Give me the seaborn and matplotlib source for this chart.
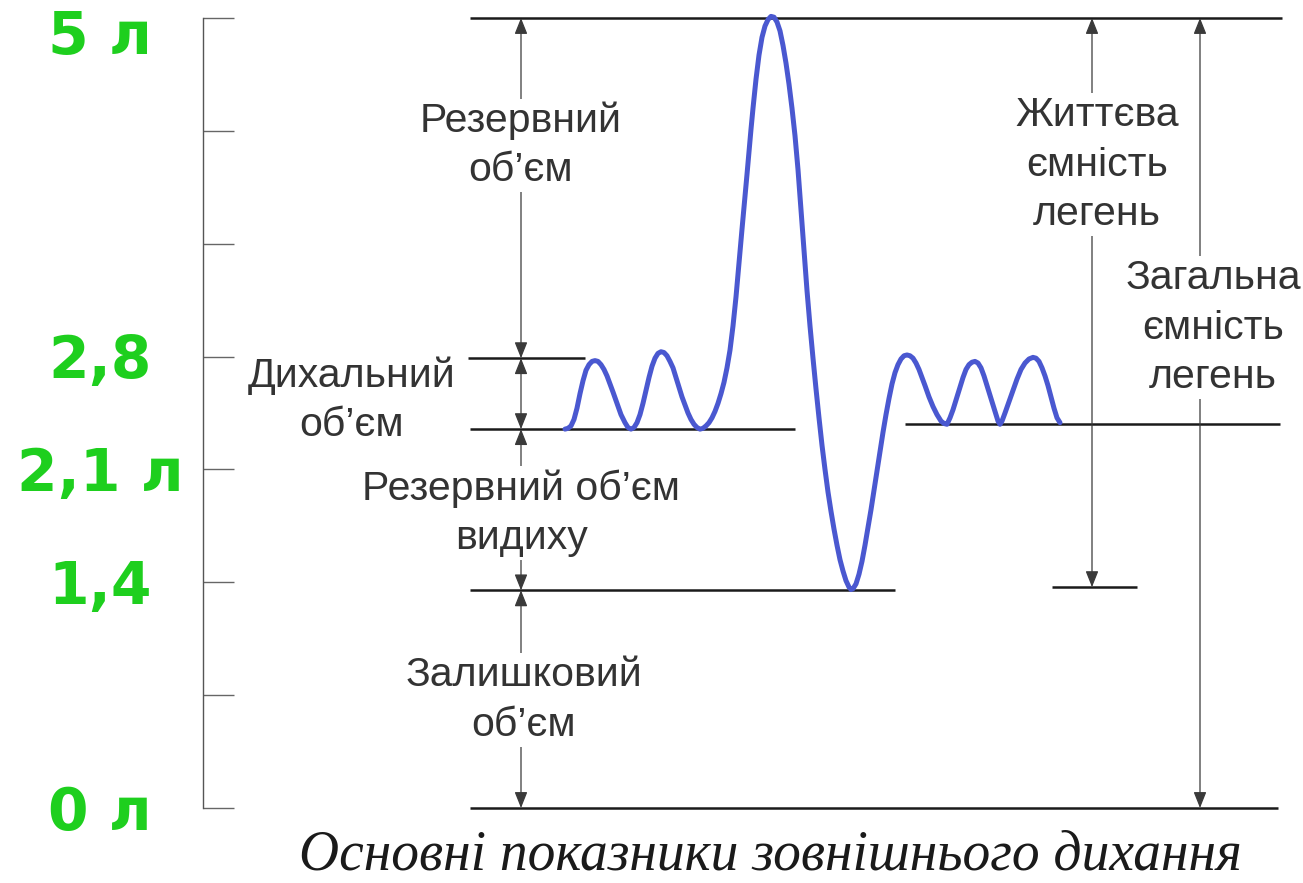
import numpy as np
import pandas as pd
import seaborn as sns
import matplotlib.pyplot as plt
from matplotlib.patches import ArrowStyle

# -------------------------
# Data (x = time position, volume in litres)
# -------------------------
curve_t = [565, 568, 571, 574, 577, 580, 583, 586, 589, 592, 595, 598, 601,
           604, 607, 610, 613, 617, 621, 625, 628, 631, 634, 637, 640, 643,
           646, 649, 652, 655, 658, 661, 664, 667, 670, 673, 676, 679, 682,
           685, 688, 691, 694, 697, 700, 703, 706, 709, 712, 715, 718, 721,
           724, 727, 730, 733, 736, 738, 740, 742, 745, 747, 749, 751, 753,
           756, 759, 762, 765, 768, 771, 774, 777, 780, 783, 786, 789, 792,
           795, 798, 801, 804, 807, 810, 813, 816, 819, 822, 825, 828, 831,
           834, 837, 840, 843, 846, 849, 851, 853, 856, 859, 862, 865, 868,
           871, 874, 877, 880, 883, 886, 889, 892, 895, 898, 901, 904, 907,
           910, 913, 916, 919, 922, 925, 929, 933, 937, 941, 944, 947, 950,
           953, 956, 960, 963, 966, 969, 972, 975, 978, 981, 984, 987, 990,
           993, 996, 998, 1000, 1002, 1005, 1009, 1013, 1017, 1021, 1025,
           1029, 1033, 1036, 1039, 1042, 1045, 1048, 1051, 1054, 1057, 1060]
curve_vol = [2.35, 2.355, 2.37, 2.41, 2.48, 2.57, 2.65, 2.715, 2.75, 2.77,
             2.775, 2.77, 2.75, 2.72, 2.68, 2.63, 2.58, 2.51, 2.44, 2.39,
             2.36, 2.35, 2.36, 2.39, 2.44, 2.51, 2.59, 2.67, 2.74, 2.79,
             2.82, 2.83, 2.825, 2.805, 2.77, 2.73, 2.67, 2.61, 2.55, 2.50,
             2.45, 2.41, 2.38, 2.36, 2.35, 2.355, 2.37, 2.39, 2.42, 2.46,
             2.51, 2.57, 2.64, 2.73, 2.84, 2.99, 3.17, 3.31, 3.45, 3.59,
             3.79, 3.93, 4.07, 4.21, 4.34, 4.52, 4.67, 4.78, 4.85, 4.89,
             4.91, 4.905, 4.875, 4.82, 4.73, 4.62, 4.49, 4.34, 4.17, 3.96,
             3.71, 3.46, 3.21, 2.99, 2.79, 2.60, 2.42, 2.25, 2.10, 1.96,
             1.84, 1.73, 1.63, 1.54, 1.47, 1.41, 1.37, 1.355, 1.36, 1.39,
             1.45, 1.53, 1.63, 1.74, 1.85, 1.97, 2.09, 2.21, 2.33, 2.44,
             2.54, 2.63, 2.70, 2.75, 2.785, 2.805, 2.81, 2.805, 2.79, 2.76,
             2.72, 2.67, 2.62, 2.55, 2.49, 2.44, 2.40, 2.385, 2.38, 2.42,
             2.47, 2.53, 2.61, 2.67, 2.72, 2.75, 2.765, 2.77, 2.76, 2.73,
             2.68, 2.62, 2.56, 2.50, 2.44, 2.40, 2.38, 2.40, 2.45, 2.52,
             2.59, 2.66, 2.72, 2.76, 2.785, 2.795, 2.79, 2.77, 2.73, 2.68,
             2.62, 2.55, 2.48, 2.42, 2.39]

# horizontal reference levels (litres) and their extent
level_vol = [4.90, 2.79, 2.35, 2.38, 1.35, 1.37, 0.00]
level_from = [470, 468, 470, 905, 470, 1052, 470]
level_to = [1282, 585, 795, 1280, 895, 1137, 1278]

# double arrows (x position, lower, upper volume)
arrow_x = [521, 521, 521, 521, 1092, 1200]
arrow_lo = [2.79, 2.35, 1.35, 0.00, 1.37, 0.00]
arrow_hi = [4.90, 2.79, 2.35, 1.35, 4.90, 4.90]

# axis ticks (0.7 l steps) and the labelled ones
tick_values = [0.0, 0.7, 1.4, 2.1, 2.8, 3.5, 4.2, 4.9]
label_values = [4.9, 2.8, 2.1, 1.4, 0.0]
label_texts = ["5 л", "2,8", "2,1 л", "1,4", "0 л"]

# volume names
names = ["Резервний\nоб’єм", "Дихальний\nоб’єм", "Резервний об’єм\nвидиху",
         "Залишковий\nоб’єм", "Життєва\nємність\nлегень",
         "Загальна\nємність\nлегень"]
name_x = [521, 352, 521, 524, 1097, 1213]
name_y = [4.11, 2.53, 1.83, 0.67, 3.99, 2.98]

caption = "Основні показники зовнішнього дихання"

# -------------------------
# Styling
# -------------------------
sns.set_theme(style="white")
plt.rcParams["font.family"] = ["Liberation Sans", "DejaVu Sans"]

px = 4.9 / 790.0  # litres per pixel of the drawing
fig = plt.figure(figsize=(13.03, 8.83), dpi=100)
ax = fig.add_axes([0, 0, 1, 1])
ax.set_xlim(0, 1303)
ax.set_ylim(-(883 - 808) * px, 4.9 + 18 * px)

# left scale
for s in ["top", "right", "bottom"]:
    ax.spines[s].set_visible(False)
ax.spines["left"].set_position(("data", 203))
ax.spines["left"].set_bounds(0, 4.9)
ax.spines["left"].set_color("#555555")
ax.spines["left"].set_linewidth(1.0)
ax.set_xticks([])
ax.set_yticks(tick_values)
ax.tick_params(axis="y", left=True, direction="in", length=22, width=1.0,
               color="#666666", labelleft=False)

for v, t in zip(label_values, label_texts):
    ax.text(100, min(v, 4.81) - 0.135, t, ha="center", va="baseline",
            fontsize=42, fontweight="bold", color="#1ecf1e",
            family="DejaVu Sans")

# level lines
ax.hlines(level_vol, level_from, level_to, colors="#1a1a1a", lw=1.8)

# arrows
astyle = ArrowStyle("<|-|>", head_length=0.7, head_width=0.28)
for x, lo, hi in zip(arrow_x, arrow_lo, arrow_hi):
    ax.annotate("", xy=(x, lo), xytext=(x, hi),
                arrowprops=dict(arrowstyle=astyle, color="#3a3a3a", lw=0.9,
                                shrinkA=0, shrinkB=0, mutation_scale=14))

# spirogram curve
df = pd.DataFrame({"t": curve_t, "vol": curve_vol})
sns.lineplot(data=df, x="t", y="vol", sort=False, color="#4a58d0", lw=3.6,
             ax=ax, solid_joinstyle="round", solid_capstyle="round", zorder=5)

# names
for t, x, y in zip(names, name_x, name_y):
    ax.text(x, y, t, ha="center", va="center", fontsize=29.5, color="#333333",
            linespacing=1.38, zorder=6,
            bbox=dict(facecolor="white", edgecolor="none", pad=2))

ax.text(770, -(855 - 808) * px, caption, ha="center", va="center",
        fontsize=40, style="italic", family="Liberation Serif",
        color="#1a1a1a")

ax.set_xlabel("")
ax.set_ylabel("")
fig.savefig("out.png", dpi=100, facecolor="white")
plt.close(fig)
